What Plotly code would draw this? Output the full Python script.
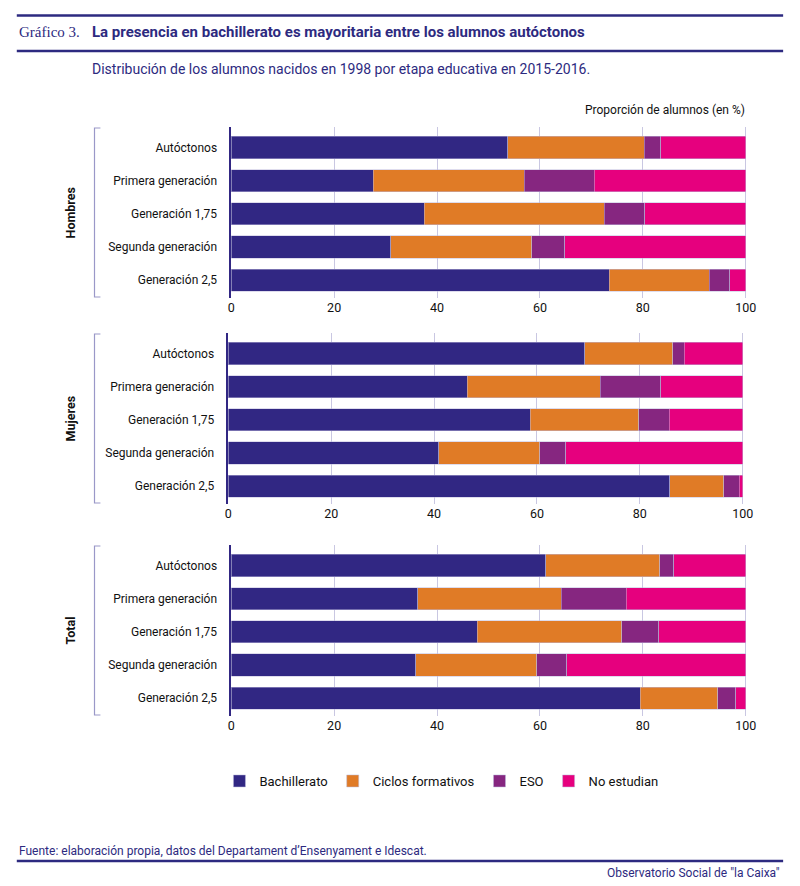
import plotly.graph_objects as go

# Data (proporción de alumnos, %)
groups = ["Autóctonos", "Primera generación", "Generación 1,75", "Segunda generación", "Generación 2,5"]
stages = ["Bachillerato", "Ciclos formativos", "ESO", "No estudian"]
colors = ["#312783", "#e07b26", "#862680", "#e6007e"]

hombres_bach = [53.7, 27.6, 37.5, 31.0, 73.5]
hombres_ciclos = [26.6, 29.4, 35.0, 27.4, 19.4]
hombres_eso = [3.2, 13.6, 7.9, 6.4, 4.0]
hombres_no = [16.5, 29.4, 19.6, 35.2, 3.1]

mujeres_bach = [69.3, 46.4, 58.7, 40.9, 85.8]
mujeres_ciclos = [17.1, 25.9, 21.1, 19.6, 10.5]
mujeres_eso = [2.2, 11.8, 5.9, 5.1, 3.0]
mujeres_no = [11.4, 15.9, 14.3, 34.4, 0.7]

total_bach = [61.1, 36.3, 47.8, 35.9, 79.5]
total_ciclos = [22.2, 27.8, 28.1, 23.5, 15.1]
total_eso = [2.7, 12.7, 7.2, 5.8, 3.5]
total_no = [14.0, 23.2, 16.9, 34.8, 1.9]

panels = [
    ("Hombres", [hombres_bach, hombres_ciclos, hombres_eso, hombres_no]),
    ("Mujeres", [mujeres_bach, mujeres_ciclos, mujeres_eso, mujeres_no]),
    ("Total", [total_bach, total_ciclos, total_eso, total_no]),
]

W, H = 800, 886
FONT = "Roboto, Liberation Sans, sans-serif"
NAVY = "#2d2a80"
GRID = "#c9c7e2"

# pixel boxes of each panel: (x0, x1, y_top, y_bottom)
boxes = [(231, 755, 127, 298), (228, 752, 333, 504), (231, 755, 545, 716)]


def px(p):
    return p / W


def py(p):
    return 1 - p / H


fig = go.Figure()
layout_axes = {}
for i, (name, series) in enumerate(panels):
    n = "" if i == 0 else str(i + 1)
    for j, stage in enumerate(stages):
        fig.add_trace(go.Bar(
            x=series[j], y=groups, orientation="h", name=stage,
            marker=dict(color=colors[j], line=dict(color="#bdbadc", width=0.5)),
            width=0.67, showlegend=(i == 0),
            xaxis="x" + n, yaxis="y" + n,
        ))
    x0, x1, t, b = boxes[i]
    layout_axes["xaxis" + n] = dict(
        domain=[px(x0), px(x1)], anchor="y" + n, range=[0, 100.2],
        tickvals=[0, 20, 40, 60, 80, 100], showgrid=True, gridcolor=GRID, gridwidth=1,
        zeroline=False, showline=False, ticks="",
        tickfont=dict(family=FONT, size=12.5, color="#111111"),
    )
    layout_axes["yaxis" + n] = dict(
        domain=[py(b), py(t)], anchor="x" + n, type="category",
        categoryorder="array", categoryarray=groups, range=[4.54, -0.62],
        showgrid=False, zeroline=False, showline=True, linecolor="#312783", linewidth=1.5,
        ticks="", ticklabelstandoff=10,
        tickfont=dict(family=FONT, size=12, color="#111111"),
    )
    # bracket and group label
    fig.add_shape(type="path", xref="paper", yref="paper",
                  path=f"M {px(98)} {py(t+1)} L {px(92)} {py(t+1)} L {px(92)} {py(b-1)} L {px(98)} {py(b-1)}",
                  line=dict(color="#9a98c8", width=1.2))
    fig.add_annotation(x=px(68), y=py((t + b) / 2), xref="paper", yref="paper",
                       xanchor="center", yanchor="middle",
                       text=f"<b>{name}</b>", showarrow=False, textangle=-90,
                       font=dict(family=FONT, size=12.5, color="#111111"))

fig.update_layout(**layout_axes)

# header and footer lines
for yy in [15.5, 51, 861]:
    fig.add_shape(type="line", xref="paper", yref="paper", x0=px(13), x1=px(792),
                  y0=py(yy), y1=py(yy), line=dict(color=NAVY, width=2.5))

fig.add_annotation(x=px(13), y=py(32), xref="paper", yref="paper", xanchor="left", yanchor="middle",
                   text="Gráfico 3.", showarrow=False,
                   font=dict(family="Liberation Serif, DejaVu Serif, serif", size=15, color=NAVY))
fig.add_annotation(x=px(87), y=py(32), xref="paper", yref="paper", xanchor="left", yanchor="middle",
                   text="<b>La presencia en bachillerato es mayoritaria entre los alumnos autóctonos</b>",
                   showarrow=False, font=dict(family=FONT, size=15, color=NAVY))
fig.add_annotation(x=px(87), y=py(69), xref="paper", yref="paper", xanchor="left", yanchor="middle",
                   text="Distribución de los alumnos nacidos en 1998 por etapa educativa en 2015-2016.",
                   showarrow=False, font=dict(family=FONT, size=14, color=NAVY))
fig.add_annotation(x=px(755), y=py(110), xref="paper", yref="paper", xanchor="right", yanchor="middle",
                   text="Proporción de alumnos (en %)", showarrow=False,
                   font=dict(family=FONT, size=12, color="#111111"))
fig.add_annotation(x=px(13), y=py(851), xref="paper", yref="paper", xanchor="left", yanchor="middle",
                   text="Fuente: elaboración propia, datos del Departament d’Ensenyament e Idescat.",
                   showarrow=False, font=dict(family=FONT, size=12, color=NAVY))
fig.add_annotation(x=px(791), y=py(873), xref="paper", yref="paper", xanchor="right", yanchor="middle",
                   text="Observatorio Social de \"la Caixa\"", showarrow=False,
                   font=dict(family=FONT, size=12, color=NAVY))

fig.update_layout(
    width=W, height=H, margin=dict(l=0, r=0, t=0, b=0),
    paper_bgcolor="white", plot_bgcolor="white", barmode="stack",
    legend=dict(orientation="h", x=px(219), y=py(781), xanchor="left", yanchor="middle",
                font=dict(family=FONT, size=13, color="#111111"), traceorder="normal",
                itemwidth=30),
)

# drop the default 8px body margin so the figure fills the window exactly
fig.write_html("out.html", config={"displayModeBar": False},
               post_script="document.body.style.margin='0';document.body.style.overflow='hidden';")
